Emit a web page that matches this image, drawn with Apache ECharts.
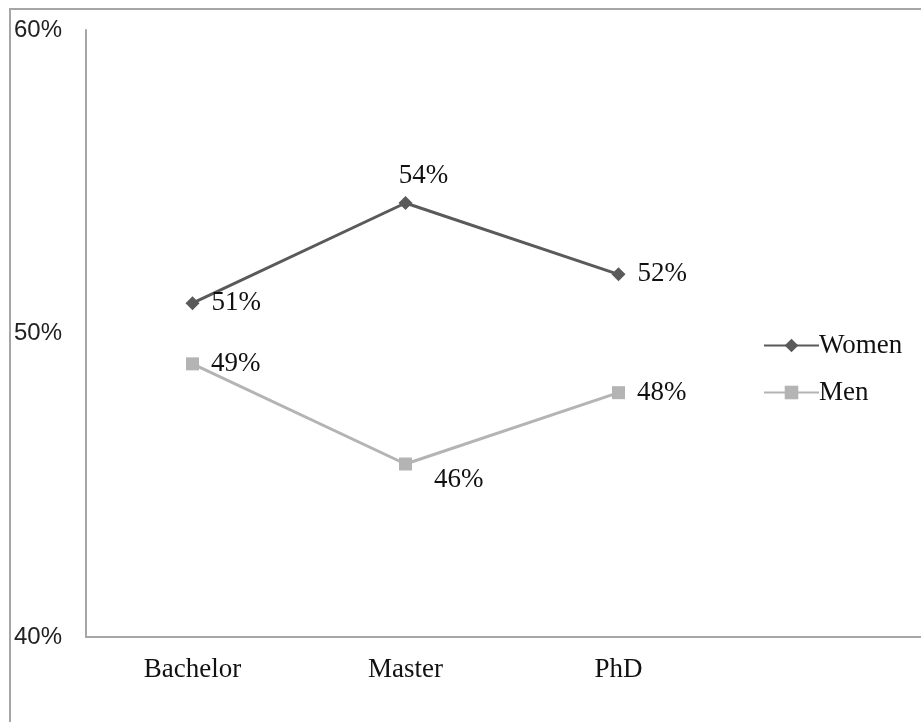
<!DOCTYPE html>
<html>
<head>
<meta charset="utf-8">
<script src="https://cdn.jsdelivr.net/npm/echarts@6/dist/echarts.min.js"></script>
<style>
  html, body { margin: 0; padding: 0; background: #ffffff; overflow: hidden; }
  #frame {
    position: absolute; left: 9px; top: 8px; width: 2000px; height: 2000px;
    border: 2px solid #a6a6a6; pointer-events: none; z-index: 2;
  }
  /* the plot runs past the right edge of the window, so the canvas is wider than it */
  #chart { position: absolute; left: 0; top: 0; width: 938px; height: 722px; }
</style>
</head>
<body>
<div id="chart"></div>
<div id="frame"></div>
<script>
// Share of graduates by degree level, in percent
const degrees = ['Bachelor', 'Master', 'PhD', ''];
const women = [51.0, 54.3, 51.95];
const men = [49.0, 45.7, 48.05];
const yTicks = [40, 50, 60];

const serif = '"Liberation Serif", "Times New Roman", serif';
const sans = '"Liberation Sans", Arial, sans-serif';

// Label placement per point (index in the category list)
function labelFor(series, i) {
  const base = { show: true, fontFamily: serif, fontSize: 27, color: '#111',
    formatter: p => Math.round(p.value) + '%' };
  if (i === 1 && series === 'women') return Object.assign(base, { position: 'top', distance: 7, offset: [18, 0] });
  if (i === 1 && series === 'men') return Object.assign(base, { position: 'right', distance: 12, offset: [10, 16] });
  return Object.assign(base, { position: 'right', distance: 12 });
}

const chart = echarts.init(document.getElementById('chart'), null, { renderer: 'canvas' });
chart.setOption({
  animation: false,
  backgroundColor: '#ffffff',
  grid: { left: 86, right: 0, top: 30, bottom: 85 },
  legend: {
    orient: 'vertical', left: 763, top: 332, padding: 0,
    itemWidth: 55, itemHeight: 17, itemGap: 20,
    textStyle: { fontFamily: serif, fontSize: 27, color: '#111', padding: [0, 0, 0, -5] },
    data: ['Women', 'Men']
  },
  xAxis: {
    type: 'category', data: degrees, boundaryGap: true,
    axisLine: { lineStyle: { color: '#a6a6a6', width: 2 } },
    axisTick: { show: false },
    axisLabel: { fontFamily: serif, fontSize: 27, color: '#111', margin: 19 },
    splitLine: { show: false }
  },
  yAxis: {
    type: 'value', min: yTicks[0], max: yTicks[yTicks.length - 1], interval: 10,
    axisLine: { show: true, lineStyle: { color: '#a6a6a6', width: 2 } },
    axisTick: { show: false },
    splitLine: { show: false },
    axisLabel: { fontFamily: sans, fontSize: 24, color: '#222', margin: 24,
      formatter: v => v + '%' }
  },
  series: [
    {
      name: 'Women', type: 'line', data: women.map((v, i) => ({ value: v, label: labelFor('women', i) })),
      symbol: 'diamond', symbolSize: 14,
      lineStyle: { color: '#5a5a5a', width: 3 },
      itemStyle: { color: '#5a5a5a' }
    },
    {
      name: 'Men', type: 'line', data: men.map((v, i) => ({ value: v, label: labelFor('men', i) })),
      symbol: 'rect', symbolSize: 13,
      lineStyle: { color: '#b4b4b4', width: 3 },
      itemStyle: { color: '#b4b4b4' }
    }
  ]
});
</script>
</body>
</html>
